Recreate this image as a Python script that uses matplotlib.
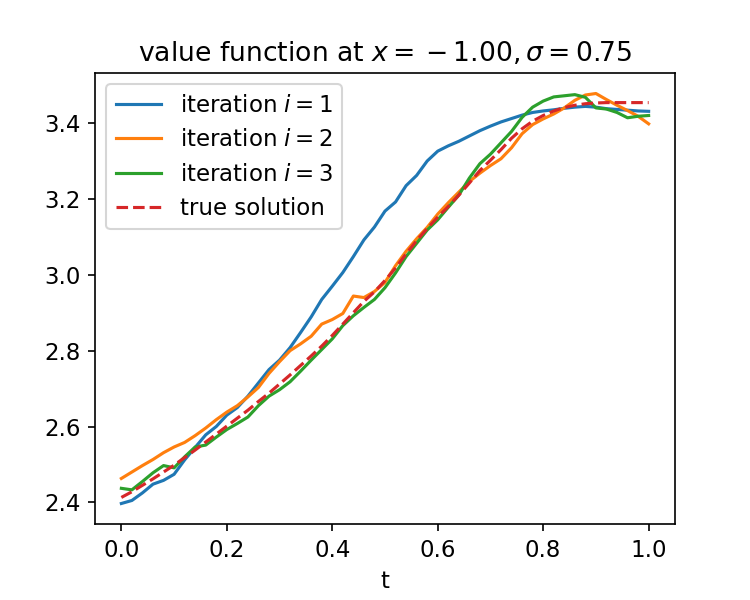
import numpy as np
import matplotlib
matplotlib.use("Agg")
import matplotlib.pyplot as plt

plt.rcParams["font.size"] = 11

# time grid
t = np.linspace(0.0, 1.0, 51)

# iteration i = 1
v_iter1 = [2.397, 2.405, 2.425, 2.448, 2.458, 2.474, 2.512, 2.545, 2.578, 2.600,
           2.630, 2.650, 2.680, 2.715, 2.750, 2.775, 2.808, 2.848, 2.889, 2.935,
           2.970, 3.006, 3.048, 3.092, 3.126, 3.168, 3.192, 3.235, 3.262, 3.300,
           3.326, 3.340, 3.352, 3.366, 3.380, 3.392, 3.403, 3.412, 3.421, 3.428,
           3.432, 3.435, 3.439, 3.442, 3.444, 3.442, 3.438, 3.436, 3.434, 3.432,
           3.431]

# iteration i = 2
v_iter2 = [2.463, 2.480, 2.497, 2.513, 2.531, 2.546, 2.558, 2.576, 2.596, 2.618,
           2.638, 2.655, 2.678, 2.703, 2.740, 2.771, 2.800, 2.818, 2.838, 2.870,
           2.882, 2.898, 2.944, 2.940, 2.956, 2.980, 3.024, 3.062, 3.095, 3.125,
           3.160, 3.190, 3.218, 3.246, 3.268, 3.288, 3.306, 3.335, 3.372, 3.396,
           3.411, 3.424, 3.440, 3.460, 3.474, 3.478, 3.462, 3.447, 3.433, 3.418,
           3.398]

# iteration i = 3
v_iter3 = [2.437, 2.433, 2.455, 2.478, 2.497, 2.491, 2.520, 2.546, 2.551, 2.572,
           2.592, 2.608, 2.625, 2.655, 2.680, 2.697, 2.718, 2.746, 2.775, 2.803,
           2.831, 2.866, 2.892, 2.914, 2.935, 2.966, 3.005, 3.048, 3.083, 3.118,
           3.145, 3.178, 3.210, 3.255, 3.293, 3.318, 3.348, 3.378, 3.415, 3.442,
           3.458, 3.469, 3.472, 3.475, 3.468, 3.440, 3.437, 3.428, 3.414, 3.418,
           3.420]

# true solution
v_true = [2.413, 2.428, 2.445, 2.462, 2.480, 2.498, 2.518, 2.538, 2.559, 2.580,
          2.601, 2.622, 2.643, 2.666, 2.688, 2.712, 2.736, 2.761, 2.786, 2.812,
          2.840, 2.870, 2.900, 2.930, 2.955, 2.985, 3.018, 3.055, 3.090, 3.122,
          3.152, 3.180, 3.210, 3.242, 3.275, 3.302, 3.330, 3.360, 3.385, 3.405,
          3.420, 3.432, 3.441, 3.447, 3.451, 3.453, 3.454, 3.454, 3.454, 3.454,
          3.454]

fig = plt.figure(figsize=(5, 4), dpi=150)
ax = fig.add_subplot(111)
fig.subplots_adjust(left=95/750, right=675/750, top=1-73/600, bottom=1-524/600)

ax.plot(t, v_iter1, label=r"iteration $i=1$")
ax.plot(t, v_iter2, label=r"iteration $i=2$")
ax.plot(t, v_iter3, label=r"iteration $i=3$")
ax.plot(t, v_true, "--", label="true solution")

# empty group makes the minus binary, like the original rendering
ax.set_title(r"value function at $x = {}-1.00, \sigma = 0.75$", fontsize=12.8)
ax.set_xlabel("t")
ax.legend(loc="upper left")

fig.savefig("out.png", dpi=150)
